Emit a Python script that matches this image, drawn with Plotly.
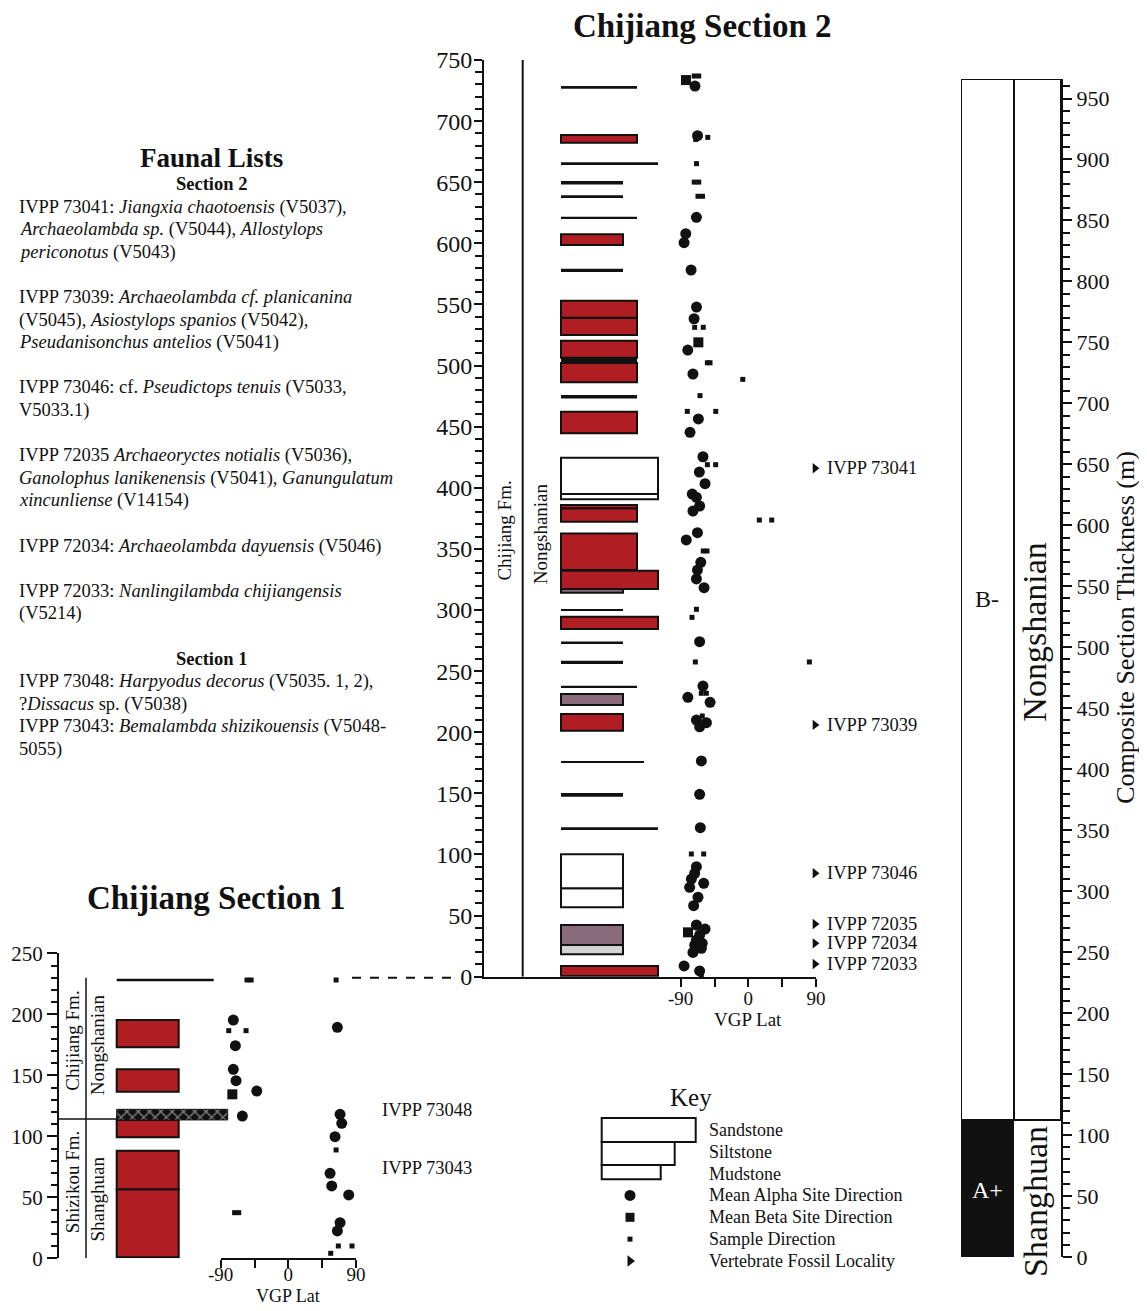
import plotly.graph_objects as go

# page has an 8px body margin: figure is sized/offset so the picture lines up with the 1147x1311 window
OFF = 8
W, H = 1147 - OFF, 1311 - 2 * OFF
FONT = "Liberation Serif"

# ---------------- DATA ----------------
# Chijiang Section 2 lithology beds (metres)
S2_BASE = [0.5, 18.3, 25.9, 56.8, 72.3, 120.6, 147.2, 174.9, 201.3, 222.3, 236.5, 255.8, 272.3,
           284.5, 299.3, 314.2, 317.2, 332.7, 372.3, 383.2, 390.6, 394.9, 444.6, 473.0, 486.3,
           502.2, 506.3, 525.0, 539.2, 576.5, 598.6, 620.2, 637.1, 648.2, 664.1, 682.3, 726.5]
S2_TOP = [8.8, 25.9, 42.3, 72.3, 100.1, 122.2, 150.2, 176.5, 214.9, 231.3, 238.1, 258.4, 274.3,
          294.5, 300.8, 317.2, 332.2, 362.7, 383.2, 385.9, 394.9, 424.6, 462.2, 476.0, 502.2,
          506.3, 520.4, 539.2, 553.1, 579.3, 607.4, 621.8, 639.4, 651.0, 666.4, 688.7, 728.8]
S2_LITH = ["sand", "mud", "mud", "mud", "mud", "sand", "mud", "vfsand", "mud", "mud", "silt", "mud", "mud",
           "sand", "mud", "mud", "sand", "silt", "silt", "silt", "sand", "sand", "silt", "silt", "silt",
           "silt", "silt", "silt", "silt", "mud", "mud", "silt", "mud", "mud", "sand", "silt", "silt"]
S2_COLOR = ["red", "grey", "purple", "white", "white", "black", "black", "black", "red", "purple", "black", "black", "black",
            "red", "black", "purple", "red", "red", "red", "red", "white", "white", "red", "black", "red",
            "black", "red", "red", "red", "black", "red", "black", "black", "black", "black", "red", "black"]

# Chijiang Section 1 lithology beds (metres)
S1_BASE = [0.8, 56.6, 99.2, 113.4, 136.6, 173.0, 227.0]
S1_TOP = [56.6, 88.2, 113.4, 122.1, 154.9, 195.3, 229.2]
S1_LITH = ["mud", "mud", "mud", "cgl", "mud", "mud", "sand"]
S1_COLOR = ["red", "red", "red", "cgl", "red", "red", "black"]

# Section 2 VGP latitudes
S2_ALPHA_M = [728.7, 688.1, 621.3, 607.9, 600.5, 578.2, 547.9, 538.3, 512.7, 493.1, 456.3, 445.4, 425.4,
              412.9, 403.4, 394.9, 392.2, 385.1, 381.0, 363.3, 357.3, 339.0, 332.7, 325.4, 318.3, 274.1,
              237.8, 228.6, 224.5, 210.0, 207.8, 204.5, 176.5, 149.2, 121.9, 90.0, 84.6, 79.9, 76.4,
              73.1, 65.0, 58.1, 42.3, 39.0, 34.1, 30.0, 27.3, 25.9, 23.2, 19.9, 8.8, 4.7]
S2_ALPHA_VGP = [-71, -67.6, -69.1, -83.3, -85.5, -76.2, -69, -72.2, -80.6, -73.7, -66.5, -77.6, -60.4,
                -65.2, -57.6, -74.6, -69.1, -64.8, -73.7, -67.7, -82.6, -63.3, -67.7, -69.1, -58.9, -64.8,
                -60.4, -80.5, -50.9, -69.1, -55.8, -64.8, -62.5, -64.8, -63.9, -69.1, -71.4, -75.8, -59.4,
                -78.1, -67, -72.8, -69.1, -57.6, -64.8, -69.1, -61.3, -71.4, -62.5, -73.7, -85.5, -64.8]
S2_BETA_M = [733.6, 519.0, 36.3]
S2_BETA_VGP = [-83, -66.5, -80.3]
S2_SAMPLE_M = [736.9, 736.9, 685.0, 686.7, 665.2, 650.1, 650.1, 638.5, 638.5, 531.3, 531.3, 502.3, 502.3,
               488.7, 475.4, 462.5, 462.5, 418.9, 418.9, 373.6, 373.6, 348.3, 348.3, 300.6, 294.0, 257.5,
               257.5, 231.9, 231.9, 213.3, 100.4, 100.4, 0.7]
S2_SAMPLE_VGP = [-72, -66, -70, -54, -69, -72, -66, -67, -61, -71.4, -60, -54.5, -51,
                 -7.4, -64.3, -81.2, -43.4, -54.5, -43.5, 14.6, 31.1, -60, -55, -69.1, -75, -70.5,
                 81.2, -62.6, -55.9, -61.3, -75.8, -59.4, -62.5]

# Section 1 VGP latitudes
S1_ALPHA_M = [195.3, 189.3, 174.3, 154.9, 145.6, 137.1, 116.6, 118.0, 110.6, 99.7, 69.7, 59.3, 51.9, 29.2, 22.4]
S1_ALPHA_VGP = [-73.2, 65.2, -70.5, -73.2, -69.6, -42, -61.2, 68.8, 71, 62.1, 55.5, 57.7, 80.3, 68.8, 65.2]
S1_BETA_M = [134.4]
S1_BETA_VGP = [-74.5]
S1_SAMPLE_M = [228.1, 228.1, 228.1, 186.6, 186.6, 88.8, 37.4, 37.4, 10.1, 10.1, 4.1]
S1_SAMPLE_VGP = [-55, -49.5, 63.5, -79.3, -56.3, 63.5, -71.5, -66, 66.5, 84.7, 56.4]

# Vertebrate fossil localities
S2_LOC_NAMES = ["IVPP 73041", "IVPP 73039", "IVPP 73046", "IVPP 72035", "IVPP 72034", "IVPP 72033"]
S2_LOC_M = [416, 206, 84.6, 43.1, 27.3, 10.4]
S1_LOC_NAMES = ["IVPP 73048", "IVPP 73043"]
S1_LOC_M = [121.6, 73.8]

# Composite section zones (metres)
POL_NAMES = ["A+", "B-"]
POL_BASE = [0, 112.4]
POL_TOP = [112.4, 966]
STAGE_NAMES = ["Shanghuan", "Nongshanian"]
STAGE_BASE = [0, 112.4]
STAGE_TOP = [112.4, 966]
SECTION1_TOP = 230  # composite level where Section 2 begins

KEY_LABELS = ["Sandstone", "Siltstone", "Mudstone", "Mean Alpha Site Direction",
              "Mean Beta Site Direction", "Sample Direction", "Vertebrate Fossil Locality"]

FAUNA_LINES = [
    (0, "IVPP 73041: <i>Jiangxia chaotoensis</i> (V5037),"),
    (1, "<i>Archaeolambda sp.</i> (V5044), <i>Allostylops</i>"),
    (2, "<i>periconotus</i> (V5043)"),
    (4, "IVPP 73039: <i>Archaeolambda cf. planicanina</i>"),
    (5, "(V5045), <i>Asiostylops spanios</i> (V5042),"),
    (6, "<i>Pseudanisonchus antelios</i> (V5041)"),
    (8, "IVPP 73046: cf. <i>Pseudictops tenuis</i> (V5033,"),
    (9, "V5033.1)"),
    (11, "IVPP 72035 <i>Archaeoryctes notialis</i> (V5036),"),
    (12, "<i>Ganolophus lanikenensis</i> (V5041), <i>Ganungulatum</i>"),
    (13, "<i>xincunliense</i> (V14154)"),
    (15, "IVPP 72034: <i>Archaeolambda dayuensis</i> (V5046)"),
    (17, "IVPP 72033: <i>Nanlingilambda chijiangensis</i>"),
    (18, "(V5214)"),
    (21, "IVPP 73048: <i>Harpyodus decorus</i> (V5035. 1, 2),"),
    (22, "?<i>Dissacus</i> sp. (V5038)"),
    (23, "IVPP 73043: <i>Bemalambda shizikouensis</i> (V5048-"),
    (24, "5055)"),
]
FAUNA_HEADERS = [(-1, "Section 2"), (20, "Section 1")]

# ---------------- STYLE ----------------
GRAIN_W = {"mud": 62, "silt": 76, "vfsand": 83, "sand": 97, "cgl": 111}
FILL = {"red": "#B01E23", "purple": "#8A6B7B", "grey": "#D4D4D4", "white": "white", "black": "#111111",
        "cgl": "#111111"}
INK = "#111111"


def px(p):
    return (p - OFF) / W


def py(p):
    return 1 - (p - OFF) / H


def dx(a, b):
    return [px(a), px(b)]


def dy(top, bottom):
    return [py(bottom), py(top)]


fig = go.Figure()


def add_beds(base, top, lith, color, xa, ya):
    for c in ["white", "grey", "purple", "red", "black", "cgl"]:
        idx = [i for i in range(len(base)) if color[i] == c]
        if not idx:
            continue
        marker = dict(color=FILL[c], line=dict(color=INK, width=0 if c == "black" else 2))
        if c == "cgl":
            marker["pattern"] = dict(shape="x", fgcolor="white", bgcolor=INK, size=8,
                                     solidity=0.3, fillmode="overlay")
            marker["line"] = dict(color=INK, width=1)
        fig.add_trace(go.Bar(
            x=[GRAIN_W[lith[i]] for i in idx],
            y=[(base[i] + top[i]) / 2 for i in idx],
            width=[top[i] - base[i] for i in idx],
            base=0, orientation="h", marker=marker, xaxis=xa, yaxis=ya,
            showlegend=False, hoverinfo="skip", cliponaxis=False))


add_beds(S2_BASE, S2_TOP, S2_LITH, S2_COLOR, "x", "y")
add_beds(S1_BASE, S1_TOP, S1_LITH, S1_COLOR, "x3", "y3")


def add_vgp(am, av, bm, bv, sm, sv, xa, ya):
    fig.add_trace(go.Scatter(x=sv, y=sm, mode="markers", xaxis=xa, yaxis=ya, cliponaxis=False,
                             marker=dict(symbol="square", size=5, color=INK),
                             showlegend=False, hoverinfo="skip"))
    fig.add_trace(go.Scatter(x=bv, y=bm, mode="markers", xaxis=xa, yaxis=ya, cliponaxis=False,
                             marker=dict(symbol="square", size=10, color=INK),
                             showlegend=False, hoverinfo="skip"))
    fig.add_trace(go.Scatter(x=av, y=am, mode="markers", xaxis=xa, yaxis=ya, cliponaxis=False,
                             marker=dict(symbol="circle", size=11, color=INK),
                             showlegend=False, hoverinfo="skip"))


add_vgp(S2_ALPHA_M, S2_ALPHA_VGP, S2_BETA_M, S2_BETA_VGP, S2_SAMPLE_M, S2_SAMPLE_VGP, "x2", "y")
add_vgp(S1_ALPHA_M, S1_ALPHA_VGP, S1_BETA_M, S1_BETA_VGP, S1_SAMPLE_M, S1_SAMPLE_VGP, "x4", "y3")

# fossil localities
LOC2_X, LOC1_X = 88.6, 103
fig.add_trace(go.Scatter(x=[LOC2_X] * len(S2_LOC_M), y=S2_LOC_M, mode="markers", xaxis="x2", yaxis="y",
                         cliponaxis=False, marker=dict(symbol="triangle-right", size=9, color=INK),
                         showlegend=False, hoverinfo="skip"))
fig.add_trace(go.Scatter(x=[LOC1_X] * len(S1_LOC_M), y=S1_LOC_M, mode="markers", xaxis="x4", yaxis="y3",
                         cliponaxis=False, marker=dict(symbol="triangle-right", size=9, color=INK),
                         showlegend=False, hoverinfo="skip"))

ann = []


def note(**kw):
    d = dict(showarrow=False, xanchor="center", yanchor="middle")
    d.update(kw)
    ann.append(d)


for n, m in zip(S2_LOC_NAMES, S2_LOC_M):
    note(x=LOC2_X, y=m, xref="x2", yref="y", text=n, xanchor="left", xshift=10, font=dict(size=18.5))
for n, m in zip(S1_LOC_NAMES, S1_LOC_M):
    note(x=90, y=m, xref="x4", yref="y3", text=n, xanchor="left", xshift=24, font=dict(size=18.5))

# composite column
POL_FILL = {"A+": INK, "B-": "white"}
for i, n in enumerate(POL_NAMES):
    fig.add_trace(go.Bar(x=[26.5], y=[POL_TOP[i] - POL_BASE[i]], base=[POL_BASE[i]], width=[53],
                         marker=dict(color=POL_FILL[n], line=dict(color=INK, width=2)),
                         xaxis="x5", yaxis="y5", showlegend=False, hoverinfo="skip", cliponaxis=False))
    note(x=26, y=(POL_BASE[i] + POL_TOP[i]) / 2 if n == "B-" else 55, xref="x5", yref="y5",
         text=n, font=dict(size=24, color="white" if n == "A+" else INK))
for i, n in enumerate(STAGE_NAMES):
    fig.add_trace(go.Bar(x=[76.5], y=[STAGE_TOP[i] - STAGE_BASE[i]], base=[STAGE_BASE[i]], width=[47],
                         marker=dict(color="white",
                                     line=dict(color=INK, width=2 if n == "Nongshanian" else 0)),
                         xaxis="x5", yaxis="y5", showlegend=False, hoverinfo="skip", cliponaxis=False))
    note(x=74, y=512 if n == "Nongshanian" else 45, xref="x5", yref="y5", text=n,
         textangle=-90, font=dict(size=34))
note(x=px(1126), y=516, xref="paper", yref="y5", text="Composite Section Thickness (m)",
     textangle=-90, font=dict(size=26))

# formation / stage boundaries and labels
shapes = [
    dict(type="line", xref="x", yref="y", x0=-38.3, x1=-38.3, y0=0, y1=750, line=dict(color=INK, width=2)),
    dict(type="line", xref="x3", yref="y3", x0=-30.7, x1=-30.7, y0=0, y1=SECTION1_TOP,
         line=dict(color=INK, width=1.5)),
    dict(type="line", xref="x3", yref="y3", x0=-57.7, x1=0, y0=114.2, y1=114.2,
         line=dict(color=INK, width=1.5)),
    dict(type="line", xref="paper", yref="y3", x0=px(352), x1=px(458), y0=SECTION1_TOP, y1=SECTION1_TOP,
         line=dict(color=INK, width=2, dash="dash")),
]
note(x=-56, y=365, xref="x", yref="y", text="Chijiang Fm.", textangle=-90, font=dict(size=19))
note(x=-21, y=362, xref="x", yref="y", text="Nongshanian", textangle=-90, font=dict(size=19))
note(x=-44.2, y=178, xref="x3", yref="y3", text="Chijiang Fm.", textangle=-90, font=dict(size=19))
note(x=-44.2, y=62, xref="x3", yref="y3", text="Shizikou Fm.", textangle=-90, font=dict(size=19))
note(x=-19.2, y=175, xref="x3", yref="y3", text="Nongshanian", textangle=-90, font=dict(size=19))
note(x=-19.2, y=48.6, xref="x3", yref="y3", text="Shanghuan", textangle=-90, font=dict(size=19))

# axis titles
note(x=0, y=py(1020), xref="x2", yref="paper", text="VGP Lat", font=dict(size=19))
note(x=0, y=py(1296), xref="x4", yref="paper", text="VGP Lat", font=dict(size=18))

# titles
note(x=px(702), y=py(26), xref="paper", yref="paper", text="<b>Chijiang Section 2</b>", font=dict(size=33))
note(x=px(216), y=py(898), xref="paper", yref="paper", text="<b>Chijiang Section 1</b>", font=dict(size=33))
note(x=px(211), y=py(158), xref="paper", yref="paper", text="<b>Faunal Lists</b>", font=dict(size=27))
for k, t in FAUNA_LINES:
    note(x=px(17), y=py(207 + 22.6 * k), xref="paper", yref="paper", text=t, xanchor="left",
         font=dict(size=18.5))
for k, t in FAUNA_HEADERS:
    note(x=px(211), y=py(207 + 22.6 * k), xref="paper", yref="paper", text="<b>" + t + "</b>",
         font=dict(size=18.5))

# key
KEY_BOX = {"Sandstone": (-0.55, 0.55, "sand"), "Siltstone": (0.55, 1.6, "silt"), "Mudstone": (1.6, 2.26, "mud")}
for lab in ["Sandstone", "Siltstone", "Mudstone"]:
    y0, y1, g = KEY_BOX[lab]
    shapes.append(dict(type="rect", xref="x6", yref="y6", x0=6.7, x1=6.7 + GRAIN_W[g] - 3, y0=y0, y1=y1,
                       line=dict(color=INK, width=2), fillcolor="white"))
KEY_SYM = [("circle", 11, 3), ("square", 9, 4), ("square", 5, 5), ("triangle-right", 10, 6)]
for sym, sz, row in KEY_SYM:
    fig.add_trace(go.Scatter(x=[35], y=[row], mode="markers", xaxis="x6", yaxis="y6", cliponaxis=False,
                             marker=dict(symbol=sym, size=sz, color=INK), showlegend=False, hoverinfo="skip"))
for r, lab in enumerate(KEY_LABELS):
    note(x=112, y=r, xref="x6", yref="y6", text=lab, xanchor="left", font=dict(size=18))
note(x=96, y=-1.47, xref="x6", yref="y6", text="Key", font=dict(size=25))

axis_common = dict(showgrid=False, zeroline=False, fixedrange=True, linecolor=INK, tickcolor=INK,
                   automargin=False)
lith_ax = dict(axis_common, showline=True, linewidth=2, ticks="", showticklabels=False)
vgp_ax = dict(axis_common, range=[-90, 90], showline=True, linewidth=2, ticks="outside", ticklen=8,
              tickwidth=1.5, tickvals=[-90, -45, 0, 45, 90], ticktext=["-90", "", "0", "", "90"])
y_ax = dict(axis_common, showline=True, linewidth=2, ticks="outside", tickwidth=1.5, dtick=50, tick0=0)

fig.update_layout(
    width=W, height=H, margin=dict(l=0, r=0, t=0, b=0, autoexpand=False), paper_bgcolor="white",
    plot_bgcolor="rgba(0,0,0,0)",
    font=dict(family=FONT, color=INK), barmode="overlay", showlegend=False,
    xaxis=dict(lith_ax, domain=dx(484, 680.7), range=[-77, 119.7], anchor="y"),
    xaxis2=dict(vgp_ax, domain=dx(680.7, 816), anchor="y", tickfont=dict(size=19), ticklabelstandoff=-5),
    yaxis=dict(y_ax, domain=dy(60, 976.7), range=[0, 750], anchor="x", ticklen=8, tickfont=dict(size=24),
               ticklabelstandoff=-3,
               minor=dict(dtick=10, ticklen=7, tickwidth=1.5, ticks="outside", tickcolor=INK)),
    xaxis3=dict(lith_ax, showline=False, domain=dx(59, 232), range=[-57.7, 115.3], anchor="y3"),
    xaxis4=dict(vgp_ax, domain=dx(220.7, 356), anchor="y3", tickfont=dict(size=19), ticklabelstandoff=-10),
    yaxis3=dict(y_ax, domain=dy(953.3, 1258.3), range=[0, 250], anchor="x3", ticklen=10, tickfont=dict(size=21),
                minor=dict(dtick=10, ticklen=6, tickwidth=1.5, ticks="outside", tickcolor=INK)),
    xaxis5=dict(axis_common, domain=dx(961, 1061), range=[0, 100], anchor="y5", visible=False),
    yaxis5=dict(y_ax, domain=dy(79, 1257), range=[0, 966], anchor="x5", side="right", ticklen=9,
                tickfont=dict(size=22),
                minor=dict(dtick=10, ticklen=7, tickwidth=1.5, ticks="outside", tickcolor=INK)),
    xaxis6=dict(axis_common, domain=dx(595, 945), range=[0, 350], anchor="y6", visible=False),
    yaxis6=dict(axis_common, domain=dy(1086.3, 1282.8), range=[7, -2], anchor="x6", visible=False),
    annotations=ann, shapes=shapes,
)

fig.write_html("out.html")
